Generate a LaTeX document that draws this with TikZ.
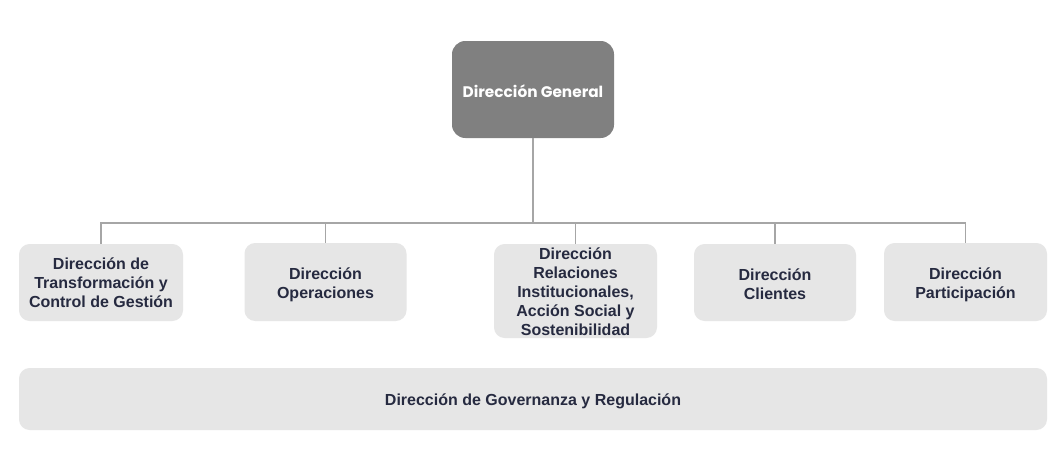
\documentclass[tikz,border=0pt]{standalone}
\usepackage{fontspec}
\setmainfont{Liberation Sans}
\newfontfamily\topfont{Poppins}
\definecolor{topgray}{HTML}{808080}
\definecolor{boxgray}{HTML}{E6E6E6}
\definecolor{linegray}{HTML}{A6A6A6}
\definecolor{navy}{HTML}{262A40}
\begin{document}
\begin{tikzpicture}[x=0.75pt,y=-0.75pt,
  topbox/.style={fill=topgray, rounded corners=10pt, minimum width=162*0.75pt, minimum height=97*0.75pt, inner sep=0pt},
  toptext/.style={inner sep=0pt, text=white, font=\topfont\bfseries\fontsize{11.5}{14}\selectfont},
  unitbox/.style={fill=boxgray, rounded corners=8pt, inner sep=0pt},
  unittext/.style={inner sep=0pt, align=center, text=navy, font=\bfseries\fontsize{12}{14.25}\selectfont},
  conn/.style={draw=linegray, line width=1.1pt}]
\useasboundingbox (0,0) rectangle (1063,465);
\fill[white] (0,0) rectangle (1063,465);
\node[topbox] (top) at (533,89.5) {};
\node[toptext] (topt) at ([yshift=-1.5pt]top.center) {Dirección General};
\node[unitbox, minimum width=164*0.75pt, minimum height=77*0.75pt] (b1) at (101,282.5) {};
\node[unittext] (b1t) at ([yshift=-0.4pt]b1.center) {Dirección de\\Transformación y\\Control de Gestión};
\node[unitbox, minimum width=162*0.75pt, minimum height=78*0.75pt] (b2) at (325.5,282) {};
\node[unittext] (b2t) at ([yshift=-1.8pt]b2.center) {Dirección\\Operaciones};
\node[unitbox, minimum width=163*0.75pt, minimum height=94*0.75pt] (b3) at (575.5,291) {};
\node[unittext] (b3t) at ([yshift=-0.8pt]b3.center) {Dirección\\Relaciones\\Institucionales,\\Acción Social y\\Sostenibilidad};
\node[unitbox, minimum width=162*0.75pt, minimum height=77*0.75pt] (b4) at (775,282.5) {};
\node[unittext] (b4t) at ([yshift=-1.5pt]b4.center) {Dirección\\Clientes};
\node[unitbox, minimum width=163*0.75pt, minimum height=78*0.75pt] (b5) at (965.5,282) {};
\node[unittext] (b5t) at ([yshift=-1.8pt]b5.center) {Dirección\\Participación};
\node[unitbox, minimum width=1028*0.75pt, minimum height=62*0.75pt] (gov) at (533,399) {};
\node[unittext] (govt) at ([yshift=-1.5pt]gov.center) {Dirección de Governanza y Regulación};
\coordinate (j) at (533,223);
\draw[conn] (top.south) -- (j);
\foreach \b in {b1,b2,b3,b4,b5} \draw[conn] (\b.north) |- (j);
\end{tikzpicture}
\end{document}
